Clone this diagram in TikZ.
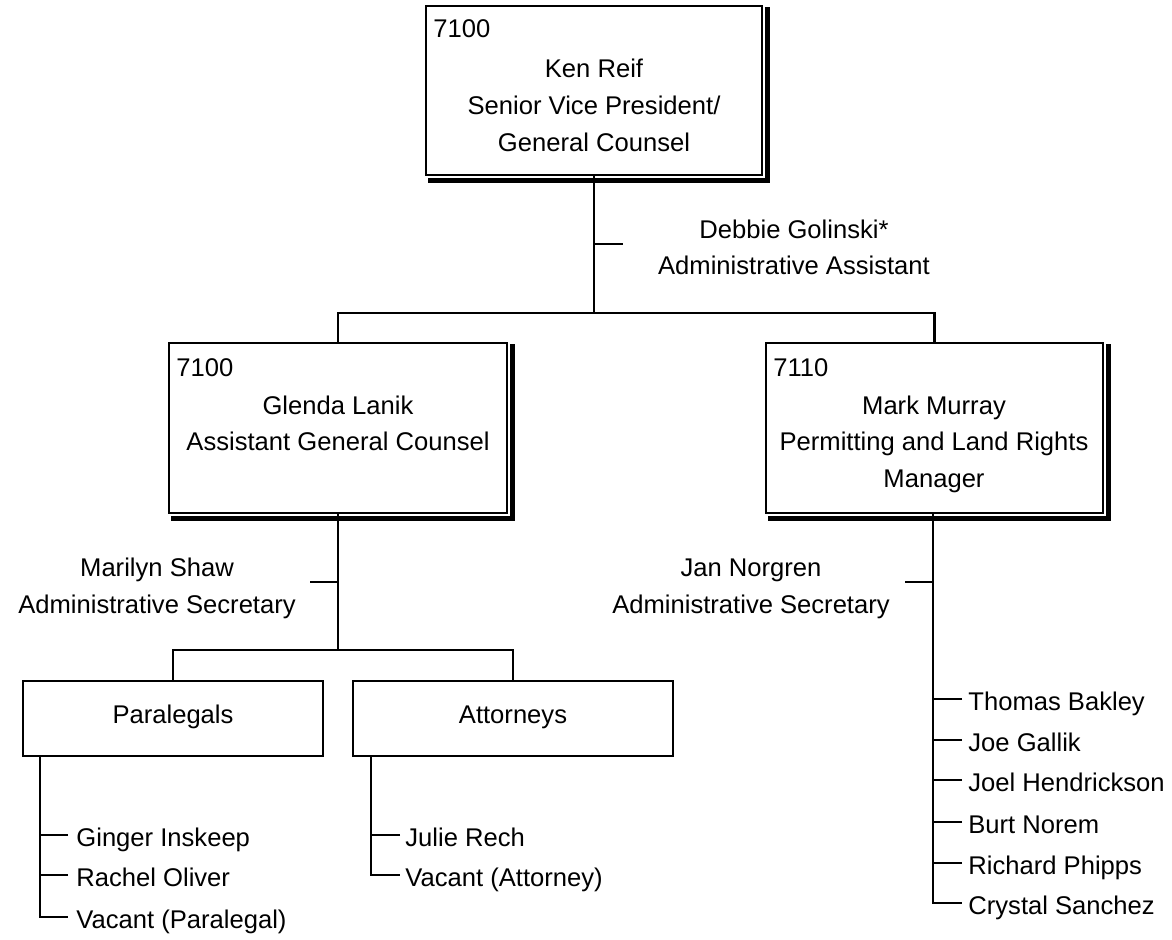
\documentclass[tikz,border=0pt]{standalone}
\usepackage{fontspec}
\setmainfont{Liberation Sans}
\begin{document}
\begin{tikzpicture}[x=0.5pt,y=-0.5pt,
  every node/.style={font=\fontsize{12.8}{18}\selectfont},
  bigbox/.style={draw, line width=1pt, inner sep=0, outer sep=0, minimum height=85pt},
  smallbox/.style={draw, line width=1pt, inner sep=0, outer sep=0, minimum height=37.5pt},
  shadowline/.style={line width=2.5pt},
  conn/.style={line width=1.1pt},
  ctxt/.style={inner sep=0, anchor=base},
  ltxt/.style={inner sep=0, anchor=base west}]
\useasboundingbox (0,0) rectangle (1172,940);

% ---------- boxes ----------
\node[bigbox, minimum width=168pt, minimum height=84.5pt] (ken) at (594,90.5) {};
\node[bigbox, minimum width=169pt] (glenda) at (338,428) {};
\node[bigbox, minimum width=168.5pt] (mark) at (934.5,428) {};
\node[smallbox, minimum width=150pt] (para) at (173,718.5) {};
\node[smallbox, minimum width=160pt] (att) at (513,718.5) {};

% shadows of the large boxes
\foreach \b in {ken,glenda,mark}{
  \draw[shadowline] ([xshift=1pt,yshift=-2.75pt]\b.south west) -- ([xshift=2.75pt,yshift=-2.75pt]\b.south east) -- ([xshift=2.75pt,yshift=-0.5pt]\b.north east);
}

% ---------- box texts ----------
\node[ltxt] (kcode) at (433,38) {7100};
\node[ctxt] (kname) at (594,78) {Ken Reif};
\node[ctxt] (ktitle1) at (594,115) {Senior Vice President/};
\node[ctxt] (ktitle2) at (594,152) {General Counsel};

\node[ltxt] (gcode) at (176,377) {7100};
\node[ctxt] (gname) at (338,415) {Glenda Lanik};
\node[ctxt] (gtitle) at (338,451) {Assistant General Counsel};

\node[ltxt] (mcode) at (773,377) {7110};
\node[ctxt] (mname) at (934,415) {Mark Murray};
\node[ctxt] (mtitle1) at (934,451) {Permitting and Land Rights};
\node[ctxt] (mtitle2) at (934,488) {Manager};

\node[ctxt] (ptext) at (173,723) {Paralegals};
\node[ctxt] (atext) at (513,723) {Attorneys};

% ---------- assistants ----------
\node[ctxt] (deb1) at (794,239) {Debbie Golinski*};
\node[ctxt] (deb2) at (794,275) {Administrative Assistant};
\node[ctxt] (mar1) at (157,576) {Marilyn Shaw};
\node[ctxt] (mar2) at (157,613) {Administrative Secretary};
\node[ctxt] (jan1) at (751,576) {Jan Norgren};
\node[ctxt] (jan2) at (751,613) {Administrative Secretary};

% ---------- connectors level 1 ----------
\coordinate (bus1) at (594,313);
\coordinate (dstub) at (594,244);
\coordinate (dend) at (623,244);
\draw[conn] (ken.south) -- (bus1);
\draw[conn] (dstub) -- (dend);
\draw[conn] (glenda.north) -- ++(0,-30) -| (mark.north);

% ---------- connectors under Glenda ----------
\coordinate (bus2) at (338,650);
\coordinate (mstub) at (338,582);
\coordinate (mend) at (310,582);
\draw[conn] (glenda.south) -- (bus2);
\draw[conn] (mstub) -- (mend);
\draw[conn] (para.north) -- ++(0,-31) -| (att.north);

% ---------- Paralegals list ----------
\coordinate (pv) at (40,756);
\coordinate (p1) at (68,835);
\coordinate (p2) at (68,875);
\coordinate (p3) at (68,917);
\draw[conn] (pv) |- (p3);
\draw[conn] (p1) -- (p1 -| pv);
\draw[conn] (p2) -- (p2 -| pv);
\node[ltxt] (ginger) at (76,846.5) {Ginger Inskeep};
\node[ltxt] (rachel) at (76,886.5) {Rachel Oliver};
\node[ltxt] (vpara) at (76,928.5) {Vacant (Paralegal)};

% ---------- Attorneys list ----------
\coordinate (av) at (371,756);
\coordinate (a1) at (400,835);
\coordinate (a2) at (400,875);
\draw[conn] (av) |- (a2);
\draw[conn] (a1) -- (a1 -| av);
\node[ltxt] (julie) at (405,846.5) {Julie Rech};
\node[ltxt] (vatt) at (405,886.5) {Vacant (Attorney)};

% ---------- Mark Murray list ----------
\coordinate (mv) at (933,513);
\coordinate (jstub) at (933,582);
\coordinate (jend) at (905,582);
\coordinate (m1) at (962,699);
\coordinate (m2) at (962,740);
\coordinate (m3) at (962,780);
\coordinate (m4) at (962,822);
\coordinate (m5) at (962,863);
\coordinate (m6) at (962,903);
\draw[conn] (mv) |- (m6);
\draw[conn] (jstub) -- (jend);
\foreach \m in {m1,m2,m3,m4,m5}{\draw[conn] (\m) -- (\m -| mv);}
\node[ltxt] (bakley) at (968,710.5) {Thomas Bakley};
\node[ltxt] (gallik) at (968,751.5) {Joe Gallik};
\node[ltxt] (hendrickson) at (968,791.5) {Joel Hendrickson};
\node[ltxt] (norem) at (968,833.5) {Burt Norem};
\node[ltxt] (phipps) at (968,874.5) {Richard Phipps};
\node[ltxt] (sanchez) at (968,914.5) {Crystal Sanchez};
\end{tikzpicture}
\end{document}
